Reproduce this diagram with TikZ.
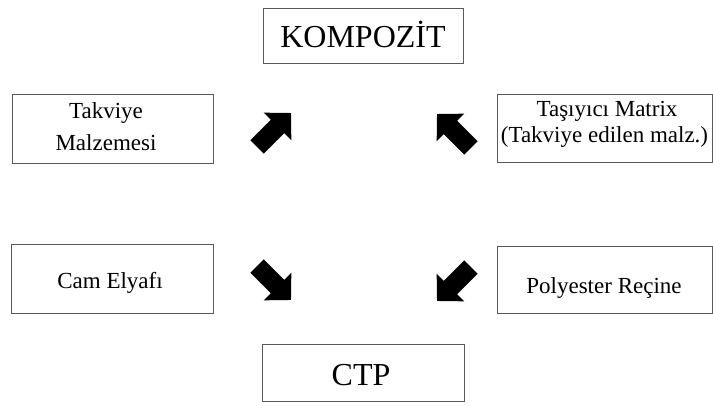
\documentclass[tikz,border=0pt]{standalone}
\usepackage{fontspec}
\setmainfont{Liberation Serif}
\tikzset{
  box/.style={draw=black!65, line width=0.9pt, rectangle, inner sep=0pt},
  bigtxt/.style={anchor=base, inner sep=0pt, font=\fontsize{32}{36}\selectfont},
  txt/.style={anchor=base, inner sep=0pt, font=\fontsize{23}{26}\selectfont},
  blockarrow/.pic={\fill[black] (-24,-9.5) -- (5,-9.5) -- (5,-19.5) -- (24,0) -- (5,19.5) -- (5,9.5) -- (-24,9.5) -- cycle;}
}
\begin{document}
\begin{tikzpicture}[x=1pt,y=1pt]
\useasboundingbox (0,0) rectangle (713,405);
% boxes
\node[box, minimum width=200, minimum height=55] (kompozit) at (363,369.5) {};
\node[box, minimum width=202, minimum height=57] (ctp) at (363,32.5) {};
\node[box, minimum width=201, minimum height=69] (takviye) at (112.5,276.5) {};
\node[box, minimum width=215, minimum height=68] (tasiyici) at (604.5,277) {};
\node[box, minimum width=202, minimum height=69] (cam) at (112,126.5) {};
\node[box, minimum width=215, minimum height=67] (polyester) at (604.5,125.5) {};
% texts
\node[bigtxt] (tkompozit) at (363,357) {KOMPOZİT};
\node[bigtxt] (tctp) at (361,20) {CTP};
\node[txt] (ttak1) at (106,286) {Takviye};
\node[txt] (ttak2) at (106,254) {Malzemesi};
\node[txt] (ttas1) at (607,288) {Taşıyıcı Matrix};
\node[txt] (ttas2) at (604.5,262) {(Takviye edilen malz.)};
\node[txt] (tcam) at (110,117) {Cam Elyafı};
\node[txt] (tpoly) at (604,112) {Polyester Reçine};
% arrows
\pic[rotate=45] (aul) at (274,275) {blockarrow};
\pic[rotate=135] (aur) at (454,274) {blockarrow};
\pic[rotate=-45] (all) at (274,122) {blockarrow};
\pic[rotate=-135] (alr) at (454,121) {blockarrow};
\end{tikzpicture}
\end{document}
